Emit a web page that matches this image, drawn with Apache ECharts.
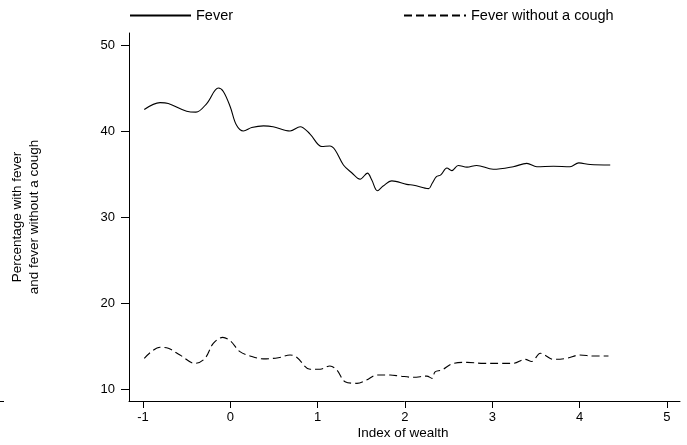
<!DOCTYPE html>
<html>
<head>
<meta charset="utf-8">
<script src="https://cdn.jsdelivr.net/npm/echarts@6/dist/echarts.min.js"></script>
<style>html,body{margin:0;padding:0;background:#fff}#c{width:687px;height:445px}</style>
</head>
<body>
<div id="c"></div>
<script>
const xTicks = [-1, 0, 1, 2, 3, 4, 5];
const yTicks = [10, 20, 30, 40, 50];
const seriesNames = ['Fever', 'Fever without a cough'];

const feverX = [-0.985,-0.805,-0.71,-0.50,-0.393,-0.27,-0.137,-0.08,0.0,0.07,0.15,0.245,0.38,0.49,0.684,0.80,0.913,1.047,1.14,1.2,1.295,1.39,1.486,1.57,1.62,1.684,1.75,1.85,2.02,2.1,2.27,2.31,2.36,2.41,2.48,2.536,2.61,2.71,2.82,3.01,3.24,3.395,3.51,3.70,3.89,3.99,4.12,4.35];
const feverY = [42.5,43.3,43.2,42.3,42.2,43.2,45.0,44.6,42.8,40.7,40.0,40.4,40.6,40.5,40.0,40.5,39.65,38.2,38.26,37.8,36.05,35.15,34.4,35.1,34.3,33.06,33.6,34.2,33.8,33.7,33.3,33.9,34.7,34.9,35.7,35.4,36.0,35.8,36.0,35.55,35.85,36.24,35.85,35.9,35.85,36.3,36.1,36.05];

const noCoughX = [-0.985,-0.805,-0.71,-0.576,-0.404,-0.29,-0.195,-0.087,0.0,0.11,0.226,0.38,0.55,0.684,0.76,0.913,1.03,1.14,1.22,1.314,1.45,1.56,1.677,1.83,1.944,2.096,2.25,2.31,2.345,2.42,2.555,2.71,2.9,3.09,3.24,3.376,3.45,3.55,3.6,3.70,3.85,4.0,4.16,4.33];
const noCoughY = [13.57,14.85,14.73,13.95,12.98,13.57,15.3,16.0,15.6,14.34,13.84,13.5,13.64,13.95,13.7,12.3,12.3,12.67,12.2,10.85,10.66,11.05,11.63,11.63,11.5,11.36,11.5,11.24,12.0,12.2,12.98,13.1,12.98,12.98,12.98,13.45,13.2,14.15,13.95,13.45,13.57,13.95,13.84,13.84];

const zip = (a, b) => a.map((v, i) => [v, b[i]]);
const FONT = 'Liberation Sans, Arial, sans-serif';
const legendText = {fontFamily: FONT, fontSize: 14.5, color: '#000'};

const chart = echarts.init(document.getElementById('c'), null, {renderer: 'canvas'});
chart.setOption({
  animation: false,
  backgroundColor: '#fff',
  textStyle: {fontFamily: FONT},
  legend: [
    {data: [seriesNames[0]], left: 129, top: 8, padding: 0, itemWidth: 61, itemHeight: 14,
     itemStyle: {opacity: 0}, textStyle: legendText, selectedMode: false},
    {data: [seriesNames[1]], left: 403, top: 8, padding: 0, itemWidth: 62, itemHeight: 14,
     itemStyle: {opacity: 0}, textStyle: legendText, selectedMode: false}
  ],
  grid: {left: 129, right: 7, top: 33, bottom: 44, containLabel: false},
  xAxis: {
    type: 'value', min: -1.16, max: 5.149,
    axisLine: {show: true, onZero: false, lineStyle: {color: '#000', width: 1}},
    axisTick: {show: true, length: 7, customValues: xTicks, lineStyle: {color: '#000'}},
    axisLabel: {customValues: xTicks, margin: 10, color: '#000', fontSize: 13, fontFamily: FONT},
    splitLine: {show: false}
  },
  yAxis: {
    type: 'value', min: 8.605, max: 51.4,
    axisLine: {show: true, onZero: false, lineStyle: {color: '#000', width: 1}},
    axisTick: {show: true, length: 8, customValues: yTicks, lineStyle: {color: '#000'}},
    axisLabel: {customValues: yTicks, margin: 14, color: '#000', fontSize: 13, fontFamily: FONT},
    splitLine: {show: false}
  },
  graphic: [
    {type: 'text', x: 26, y: 217, rotation: Math.PI / 2,
     style: {text: 'Percentage with fever\nand fever without a cough', textAlign: 'center', textVerticalAlign: 'middle',
             font: '13.5px ' + FONT, fill: '#000', lineHeight: 17}},
    {type: 'text', x: 403, y: 433,
     style: {text: 'Index of wealth', textAlign: 'center', textVerticalAlign: 'middle', font: '13.5px ' + FONT, fill: '#000'}},
    {type: 'line', shape: {x1: 0, y1: 401.5, x2: 4, y2: 401.5}, style: {stroke: '#000', lineWidth: 1}}
  ],
  series: [
    {name: seriesNames[0], type: 'line', data: zip(feverX, feverY), smooth: 0.35, showSymbol: false, symbol: 'none',
     lineStyle: {color: '#000', width: 1.1, type: 'solid'}, itemStyle: {color: '#000'}},
    {name: seriesNames[1], type: 'line', data: zip(noCoughX, noCoughY), smooth: 0.35, showSymbol: false, symbol: 'none',
     lineStyle: {color: '#000', width: 1.1, type: [8, 4]}, itemStyle: {color: '#000'}}
  ]
});
</script>
</body>
</html>
